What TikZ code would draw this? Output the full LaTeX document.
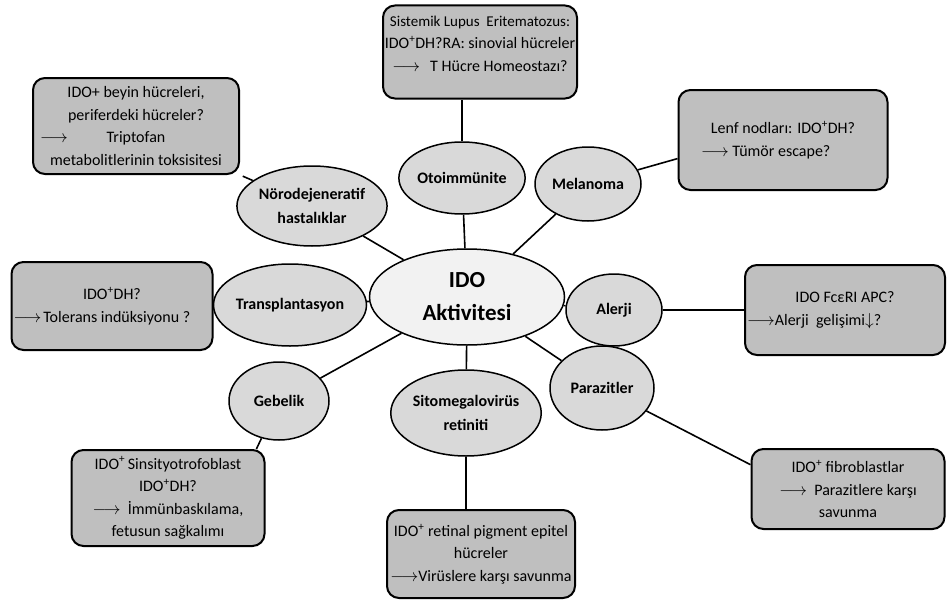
\documentclass[tikz,border=0pt]{standalone}
\usepackage{fontspec}
\setmainfont{Carlito}
\usetikzlibrary{shapes.geometric}

\definecolor{hubfill}{gray}{0.95}
\definecolor{topicfill}{gray}{0.85}
\definecolor{notefill}{gray}{0.75}
\newcommand{\ra}{$\longrightarrow$}

\begin{document}
\begin{tikzpicture}[
    x=1pt, y=-1pt,
    hub/.style={ellipse, draw, line width=1.5pt, fill=hubfill, minimum width=195pt, minimum height=96pt, inner sep=0pt, align=center, font=\fontsize{23}{33}\selectfont\bfseries},
    topic/.style 2 args={ellipse, draw, line width=1.5pt, fill=topicfill, minimum width=#1, minimum height=#2, inner sep=0pt, align=center, font=\fontsize{16}{24}\selectfont\bfseries},
    note/.style 2 args={draw, rounded corners=12pt, line width=2pt, fill=notefill, minimum width=#1, minimum height=#2, inner sep=0pt, align=center, font=\fontsize{16}{22.5}\selectfont},
    link/.style={line width=1.6pt}
]
\useasboundingbox (0,0) rectangle (952,602);

\node[hub] (hub) at (467,297) {IDO\\Aktivitesi};
\node[topic={104pt}{72pt}] (oto) at (462,178) {Otoimmünite};
\node[topic={106pt}{74pt}] (mel) at (588,184) {Melanoma};
\node[topic={126pt}{80pt}] (neuro) at (312,206) {Nörodejeneratif\\hastalıklar};
\node[topic={122pt}{82pt}] (trans) at (290,305) {Transplantasyon};
\node[topic={96pt}{72pt}] (alerji) at (614,310) {Alerji};
\node[topic={100pt}{78pt}] (gebelik) at (279,401) {Gebelik};
\node[topic={126pt}{86pt}] (cmv) at (466,413) {Sitomegalovirüs\\retiniti};
\node[topic={104pt}{84pt}] (parazit) at (602,388) {Parazitler};

\node[note={194pt}{93pt}] (sle) at (480,52) {\fontsize{15}{22.5}\selectfont Sistemik Lupus\ \ Eritematozus:\\IDO\textsuperscript{+}DH?RA: sinovial hücreler\\\ra\hspace{10pt}T Hücre Homeostazı?\\[-6pt]\mbox{}};
\node[note={206pt}{96pt}] (brain) at (136,126) {IDO+ beyin hücreleri,\\periferdeki hücreler?\\\makebox[192pt]{\ra\hfill Triptofan\hfill\hphantom{\ra}}\\metabolitlerinin toksisitesi};
\node[note={209pt}{100pt}] (lenf) at (783,140) {Lenf nodları: IDO\textsuperscript{+}DH?\\\makebox[164pt][l]{\ra\ Tümör escape?}};
\node[note={201pt}{88pt}] (tol) at (112,306) {IDO\textsuperscript{+}DH?\\\makebox[201pt][l]{\hspace{2pt}\ra\hspace{2pt}Tolerans indüksiyonu ?}};
\node[note={200pt}{90pt}] (alg) at (845,310) {IDO FcεRI APC?\\\makebox[200pt][l]{\hspace{2pt}\ra Alerji\ \ gelişimi$\downarrow$?}};
\node[note={193pt}{96pt}] (preg) at (168,498) {IDO\textsuperscript{+}\,Sinsityotrofoblast\\IDO\textsuperscript{+}DH?\\\ra\ \ İmmünbaskılama,\\fetusun sağkalımı};
\node[note={193pt}{80pt}] (para) at (848,489) {IDO\textsuperscript{+} fibroblastlar\\\ra\ \ Parazitlere karşı\\savunma};
\node[note={188pt}{88pt}] (ret) at (481,554) {IDO\textsuperscript{+} retinal pigment epitel\\hücreler\\\ra Virüslere karşı savunma};

\draw[link] (hub) -- (oto);
\draw[link] (hub) -- (mel);
\draw[link] (hub) -- (alerji);
\draw[link] (hub) -- (parazit);
\draw[link] (hub) -- (cmv);
\draw[link] (hub) -- (gebelik);
\draw[link] (hub) -- (trans);
\draw[link] (hub) -- (neuro);

\draw[link] (oto.north) -- (oto.north |- sle.south);
\draw[link, shorten >=3pt] (neuro) -- (brain.south east);
\draw[link] (mel) -- (lenf.190);
\draw[link] (trans.west) -- (trans.west -| tol.east);
\draw[link] (alerji.east) -- (alerji.east -| alg.west);
\draw[link] (gebelik) -- (preg.29);
\draw[link] (parazit) -- (para.166);
\draw[link] (cmv.south) -- (cmv.south |- ret.north);
\end{tikzpicture}
\end{document}
